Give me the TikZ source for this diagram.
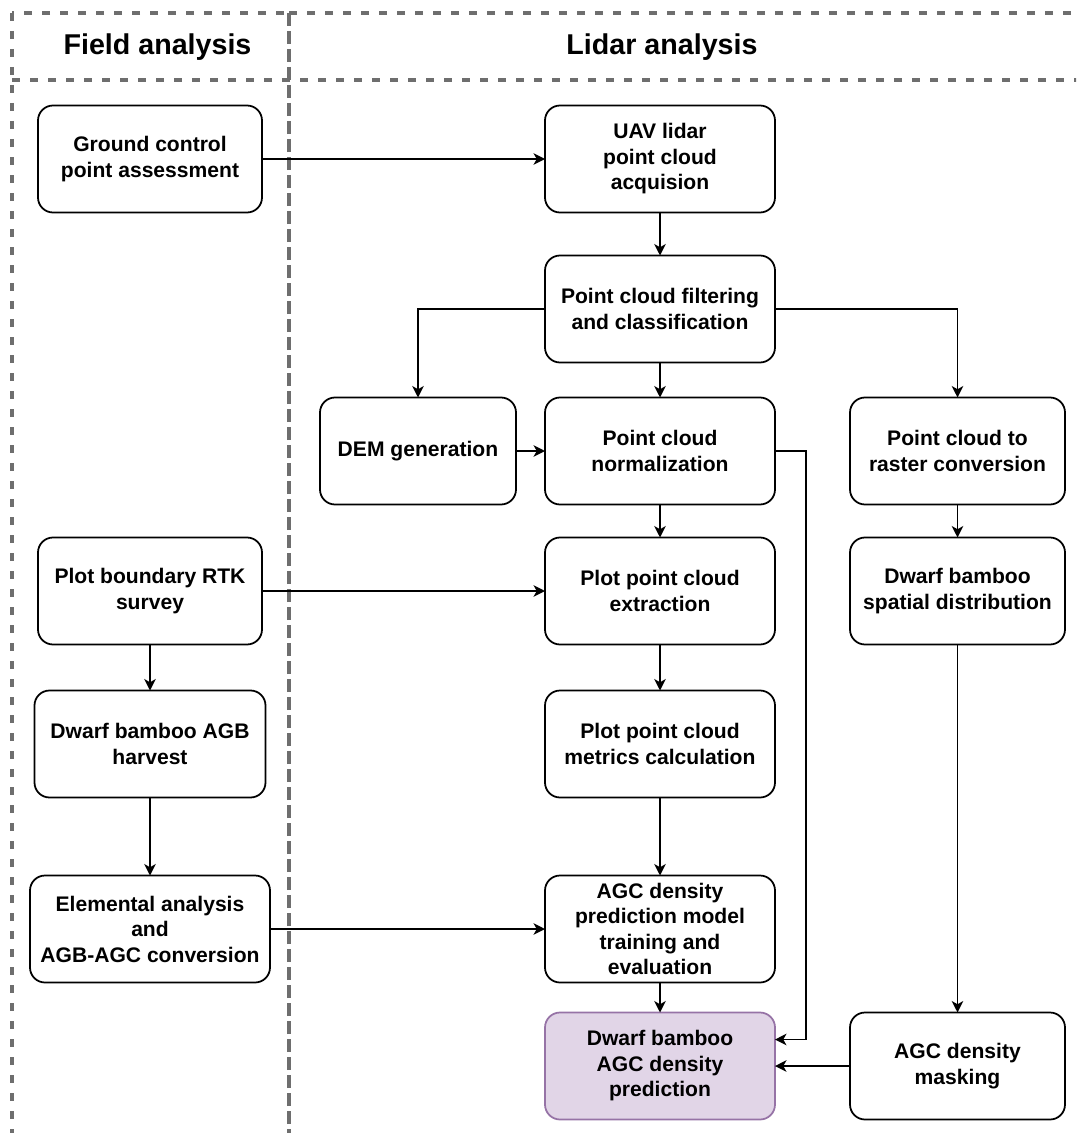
\documentclass[tikz,border=0pt]{standalone}
\usepackage{fontspec}
\setmainfont{Liberation Sans}
\usetikzlibrary{positioning,arrows.meta}
\definecolor{lanegray}{HTML}{6E6E6E}
\definecolor{predfill}{HTML}{E1D5E7}
\definecolor{predline}{HTML}{9673A6}
\tikzset{
    box/.style={draw,rounded corners=0.3cm,line width=1pt,align=center,
        minimum width=4.6cm,minimum height=2.14cm,inner sep=1pt,outer sep=0pt,
        font=\bfseries\fontsize{12}{14.5}\selectfont},
    arr/.style={-{Stealth[length=6.5pt,width=6.5pt,inset=1.8pt]},line width=1pt},
    lane/.style={draw=lanegray,line width=2pt,dash pattern=on 0.16cm off 0.2cm},
    head/.style={font=\bfseries\fontsize{16.3}{19}\selectfont}
}

\begin{document}
\begin{tikzpicture}
                \clip (0,0) rectangle (21.52,-22.66);
                \draw[lane] (0.24,-0.26) rectangle (5.78,-23);
                \draw[lane] (5.78,-0.26) rectangle (22,-23);
                \draw[lane] (0.24,-1.6) -- (22,-1.6);
                \node[head](fa) at (3.15,-0.94){Field analysis};
                \node[head](la) at (13.24,-0.94){Lidar analysis};
                \node[box](uav) at (13.2,-3.18){UAV lidar\\point cloud\\acquision};
                \node[box,minimum width=4.48cm](gcp)[left =5.66cm of uav]{Ground control\\point assessment};
                \node[box](filt)[below =0.86cm of uav]{Point cloud filtering\\and classification};
                \node[box](norm)[below =0.7cm of filt]{Point cloud\\normalization};
                \node[box,minimum width=3.92cm](dem)[left =0.58cm of norm]{DEM generation};
                \node[box,minimum width=4.3cm](rast)[right =1.5cm of norm]{Point cloud to\\raster conversion};
                \node[box](ext)[below =0.66cm of norm]{Plot point cloud\\extraction};
                \node[box,minimum width=4.3cm](dist)[below =0.66cm of rast]{Dwarf bamboo\\spatial distribution};
                \node[box,minimum width=4.48cm](rtk)[left =5.66cm of ext]{Plot boundary RTK\\survey};
                \node[box](met)[below =0.92cm of ext]{Plot point cloud\\metrics calculation};
                \node[box,minimum width=4.62cm](agb)[below =0.92cm of rtk]{Dwarf bamboo AGB\\harvest};
                \node[box](mod)[below =1.56cm of met]{AGC density\\prediction model\\training and\\evaluation};
                \node[box,minimum width=4.8cm](agc)[below =1.56cm of agb]{Elemental analysis\\and\\AGB-AGC conversion};
                \node[box,fill=predfill,draw=predline](pred)[below =0.6cm of mod]{Dwarf bamboo\\AGC density\\prediction};
                \node[box,minimum width=4.3cm](mask)[right =1.5cm of pred]{AGC density\\masking};
                \path[arr](gcp) edge (uav)
                          (uav) edge (filt)
                          (filt) edge (norm)
                          (dem) edge (norm)
                          (norm) edge (ext)
                          (ext) edge (met)
                          (met) edge (mod)
                          (mod) edge (pred)
                          (rast) edge (dist)
                          (dist) edge (mask)
                          (mask) edge (pred)
                          (rtk) edge (ext)
                              edge (agb)
                          (agb) edge (agc)
                          (agc) edge (mod);
                \draw[arr](filt.west) -| (dem.north);
                \draw[arr](filt.east) -| (rast.north);
                \draw[arr](norm.east) -- ++(0.62,0) |- ([yshift=0.53cm]pred.east);
\end{tikzpicture}
\end{document}
